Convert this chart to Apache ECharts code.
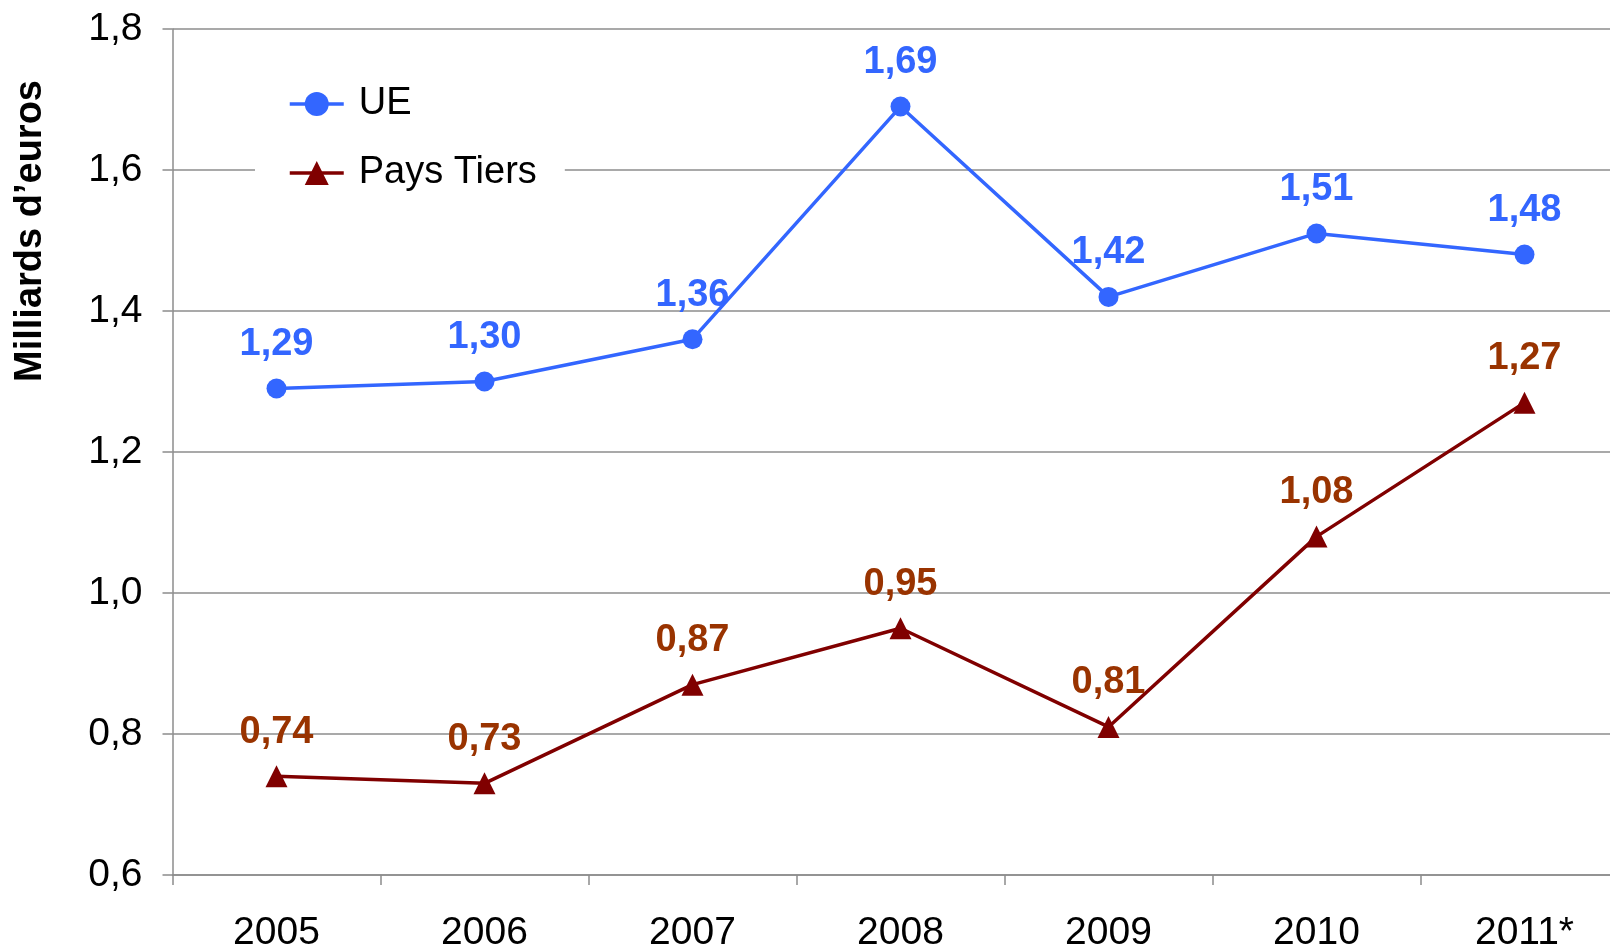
<!DOCTYPE html>
<html>
<head>
<meta charset="utf-8">
<script src="https://cdn.jsdelivr.net/npm/echarts@6/dist/echarts.min.js"></script>
<style>
  html, body { margin: 0; padding: 0; background: #fff; }
  #chart { width: 1610px; height: 949px; }
</style>
</head>
<body>
<div id="chart"></div>
<script>
// Years on the category axis
const years = ['2005', '2006', '2007', '2008', '2009', '2010', '2011*'];
// Values in billions of euros
const ueValues = [1.29, 1.30, 1.36, 1.69, 1.42, 1.51, 1.48];
const paysTiersValues = [0.74, 0.73, 0.87, 0.95, 0.81, 1.08, 1.27];
// Value axis range and step
const yMin = 0.6, yMax = 1.8, yStep = 0.2;
const yTitle = 'Milliards d\u2019euros';

const FONT = '"Liberation Sans", Arial, Helvetica, sans-serif';
const BLUE = '#3366ff';
const DARK_RED = '#800000';
const BROWN = '#993300';
const GRID_GRAY = '#8c8c8c';

const fmt = v => v.toFixed(2).replace('.', ',');

const chart = echarts.init(document.getElementById('chart'), null, { renderer: 'canvas' });

chart.setOption({
  animation: false,
  backgroundColor: '#ffffff',
  // the last category band runs past the right edge of the canvas
  grid: { left: 172.5, top: 29, right: -18.5, bottom: 74, containLabel: false, outerBoundsMode: 'none' },
  xAxis: {
    type: 'category',
    data: years,
    boundaryGap: true,
    axisLine: { show: true, lineStyle: { color: GRID_GRAY, width: 1.5 } },
    axisTick: { show: true, length: 10, alignWithLabel: false, lineStyle: { color: GRID_GRAY, width: 1.5 } },
    axisLabel: { color: '#000', fontFamily: FONT, fontSize: 39, margin: 39, lineHeight: 39 },
    splitLine: { show: false }
  },
  yAxis: {
    type: 'value',
    min: yMin, max: yMax, interval: yStep,
    axisLine: { show: true, lineStyle: { color: GRID_GRAY, width: 1.5 } },
    axisTick: { show: true, length: 10, lineStyle: { color: GRID_GRAY, width: 1.5 } },
    axisLabel: {
      color: '#000', fontFamily: FONT, fontSize: 39, margin: 30,
      formatter: v => v.toFixed(1).replace('.', ',')
    },
    splitLine: { show: true, lineStyle: { color: GRID_GRAY, width: 1.5 } }
  },
  legend: {
    orient: 'vertical',
    left: 255,
    top: 59,
    padding: [25, 28, 25, 33],
    backgroundColor: '#ffffff',
    itemWidth: 54,
    itemHeight: 30,
    itemGap: 29,
    lineStyle: { width: 3.5 },
    textStyle: { color: '#000', fontFamily: FONT, fontSize: 38, lineHeight: 40, padding: [0, 0, 0, 10] },
    data: ['UE', 'Pays Tiers']
  },
  graphic: [{
    type: 'text',
    x: 31,
    y: 231,
    rotation: Math.PI / 2,
    style: {
      text: yTitle,
      fill: '#000',
      font: 'bold 38px ' + FONT,
      textAlign: 'center',
      textVerticalAlign: 'middle'
    }
  }],
  series: [
    {
      name: 'UE',
      type: 'line',
      data: ueValues,
      symbol: 'circle',
      symbolSize: 20,
      itemStyle: { color: BLUE },
      lineStyle: { color: BLUE, width: 3.5 },
      label: {
        show: true, position: 'top', distance: 15,
        color: BLUE, fontFamily: FONT, fontWeight: 'bold', fontSize: 38, lineHeight: 38,
        formatter: p => fmt(p.value)
      },
      z: 3
    },
    {
      name: 'Pays Tiers',
      type: 'line',
      data: paysTiersValues,
      symbol: 'triangle',
      symbolSize: 22,
      itemStyle: { color: DARK_RED },
      lineStyle: { color: DARK_RED, width: 3.5 },
      label: {
        show: true, position: 'top', distance: 14,
        color: BROWN, fontFamily: FONT, fontWeight: 'bold', fontSize: 38, lineHeight: 38,
        formatter: p => fmt(p.value)
      },
      z: 3
    }
  ]
});
</script>
</body>
</html>
